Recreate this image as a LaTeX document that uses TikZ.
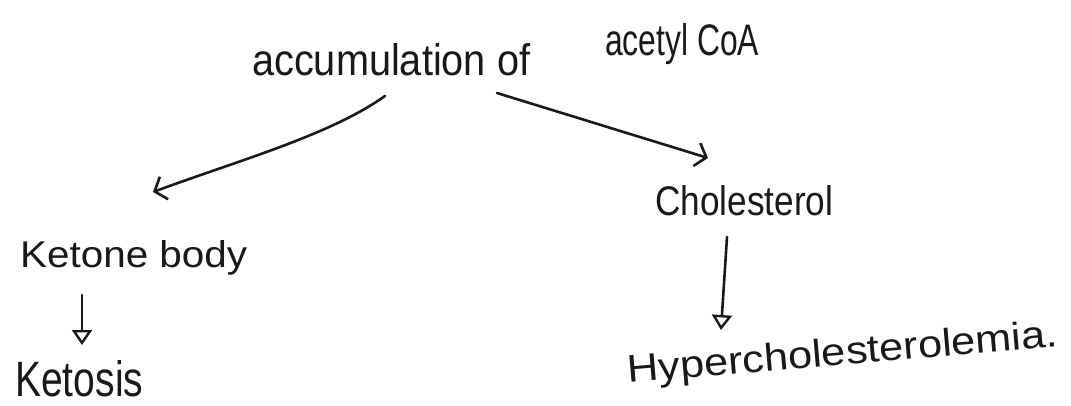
\documentclass[tikz,border=0pt]{standalone}
\usepackage{fontspec}
\usepackage{graphicx}
\setmainfont{Liberation Sans}
\usetikzlibrary{arrows.meta}
\newcommand{\fitbox}[3]{\resizebox{#1}{#2}{#3}}
\begin{document}
\begin{tikzpicture}[x=1pt,y=-1pt,
  lbl/.style={inner sep=0pt,anchor=base west,text=black!90},
  conn/.style={line width=2.6pt,black!90,line cap=round,line join=round},
  barb/.style={conn,-{Straight Barb[length=10pt,width=24pt,line width=2.6pt]}},
  tri/.style={conn,-{Triangle[open,length=15pt,width=20pt,line width=2.4pt]}}]
\useasboundingbox (0,0) rectangle (1071,405);
\node[lbl] (acc) at (252,75) {\fitbox{278pt}{32pt}{accumulation of}};
\node[lbl] (acoa) at (605,55) {\fitbox{154pt}{32pt}{acetyl CoA}};
\node[lbl] (chol) at (655,215) {\fitbox{178pt}{30pt}{Cholesterol}};
\node[lbl] (ket) at (20,267) {\fitbox{227pt}{27pt}{Ketone body}};
\node[lbl] (ktsis) at (15,396) {\fitbox{128pt}{36pt}{Ketosis}};
\node[lbl,rotate=4.8] (hyp) at (628,383) {\fitbox{432pt}{28pt}{Hypercholesterolemia.}};
\coordinate (l0) at (385,96);
\coordinate (l1) at (153,192);
\coordinate (r0) at (497,93);
\coordinate (r1) at (708,158);
\coordinate (k0) at (82,295);
\coordinate (k1) at (82,345);
\coordinate (c0) at (727,237);
\coordinate (c1) at (721,330);
\draw[barb] (l0) .. controls (330,135) and (240,160) .. (l1);
\draw[barb] (r0) -- (r1);
\draw[tri] (k0) -- (k1);
\draw[tri] (c0) -- (c1);
\end{tikzpicture}
\end{document}
